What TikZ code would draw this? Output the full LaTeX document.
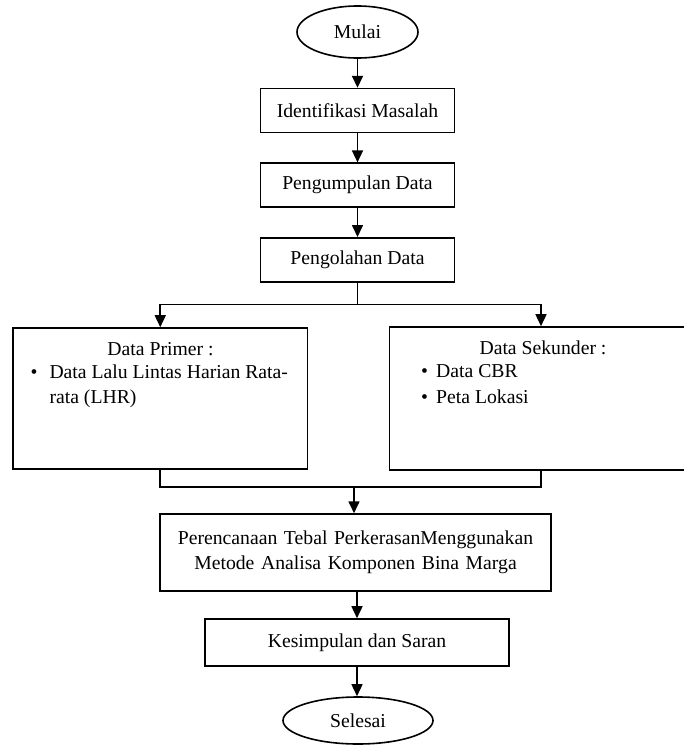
\documentclass[tikz,border=0pt]{standalone}
\usepackage{fontspec}
\setmainfont{Liberation Serif}
\usetikzlibrary{arrows.meta}
\usetikzlibrary{positioning}
\usetikzlibrary{shapes.geometric}

\begin{document}
\begin{tikzpicture}[x=1pt,y=-1pt]
        \tikzset{
          >={Triangle[length=12pt,width=11pt]},
          node distance=29pt,
          every node/.style={font=\fontsize{19.7}{25}\selectfont},
          terminal/.style={draw, ellipse, line width=1.6pt, inner sep=0pt},
          proses/.style={
            draw,
            line width=1.6pt,
            inner sep=0pt,
            minimum width=194pt,
            minimum height=44pt,
          },
          kotak/.style={draw, line width=1.6pt, inner sep=0pt},
          teks/.style={inner sep=0pt},
          panah/.style={->, line width=1.6pt},
          garis/.style={line width=1.6pt},
        }
        \useasboundingbox (0,0) rectangle (684,745);
        \clip (0,0) rectangle (684,745);
        % alur utama
        \node[terminal, minimum width=121pt, minimum height=52pt] (mulai) at (357.5,32) {Mulai};
        \node[proses, below=of mulai] (identifikasi) {Identifikasi Masalah};
        \node[proses, below=of identifikasi] (pengumpulan) {Pengumpulan Data};
        \node[proses, below=of pengumpulan] (pengolahan) {Pengolahan Data};
        % data
        \node[kotak, minimum width=294.5pt, minimum height=141pt] (primer) at (160.25,398.5) {};
        \node[kotak, minimum width=303pt, minimum height=143pt] (sekunder) at (541,398.5) {};
        \node[teks, anchor=base] (primerJudul) at (160.5,355) {Data Primer :};
        \node[teks, anchor=base] (primerTitik) at (34,378) {\textbullet};
        \node[teks, anchor=base west] (primerBaris1) at (49.3,378) {Data Lalu Lintas Harian Rata-};
        \node[teks, anchor=base west] (primerBaris2) at (49.3,403) {rata (LHR)};
        \node[teks, anchor=base] (sekunderJudul) at (543,354) {Data Sekunder :};
        \node[teks, anchor=base] (sekunderTitik1) at (424.5,377) {\textbullet};
        \node[teks, anchor=base west] (sekunderBaris1) at (436,377) {Data CBR};
        \node[teks, anchor=base] (sekunderTitik2) at (424.5,403) {\textbullet};
        \node[teks, anchor=base west] (sekunderBaris2) at (436,403) {Peta Lokasi};
        % perencanaan dan akhir
        \node[kotak, minimum width=391pt, minimum height=76.7pt, text width=380pt, align=center] (perencanaan) at (355.5,552.4)
          {Perencanaan Tebal PerkerasanMenggunakan\\Metode Analisa Komponen Bina Marga};
        \node[proses, minimum width=304pt, minimum height=47pt] (kesimpulan) at (357,642.5) {Kesimpulan dan Saran};
        \node[terminal, minimum width=150pt, minimum height=47pt] (selesai) at (358,720.5) {Selesai};
        \coordinate[below=22pt of pengolahan.south] (cabang);
        \coordinate (gabung) at (354,487);
        \draw[panah]
          (mulai) edge (identifikasi)
          (identifikasi) edge (pengumpulan)
          (pengumpulan) edge (pengolahan);
        \draw[garis] (pengolahan.south) -- (cabang);
        \draw[panah] (cabang) -| (primer.north);
        \draw[panah] (cabang) -| (sekunder.north);
        \draw[garis] (primer.south) |- (sekunder.south |- gabung) -- (sekunder.south);
        \draw[panah] (gabung) -- (gabung |- perencanaan.north);
        \draw[panah] (perencanaan.south -| kesimpulan.north) -- (kesimpulan.north);
        \draw[panah] (kesimpulan.south) -- (kesimpulan.south |- selesai.north);
      \end{tikzpicture}
\end{document}
